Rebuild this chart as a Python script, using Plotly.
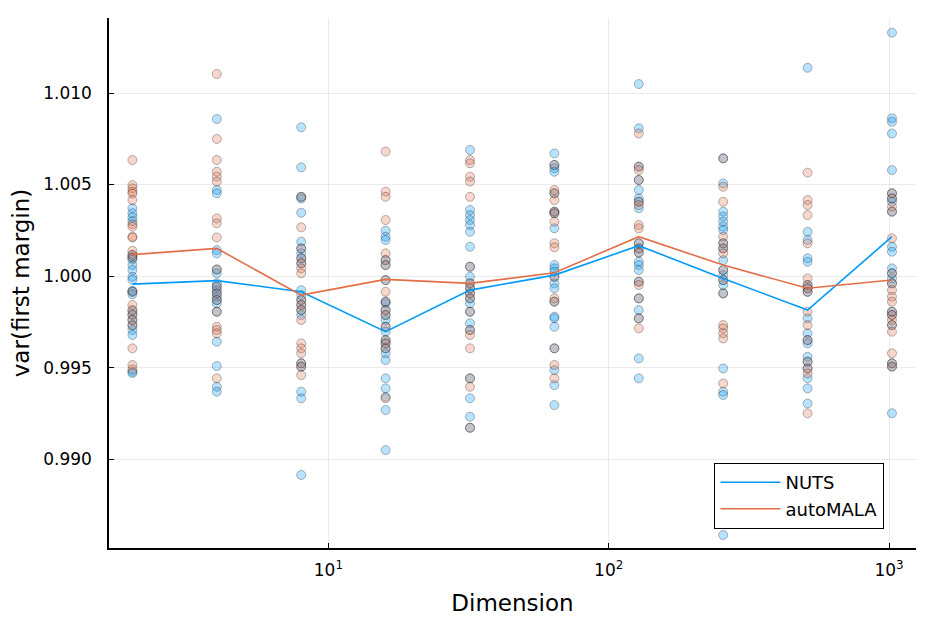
import plotly.graph_objects as go

dims = [2, 4, 8, 16, 32, 64, 128, 256, 512, 1024]

# per-replicate estimates
nuts_vals = [
    [1.0037, 1.00343, 1.00321, 1.0030, 1.00115, 1.00102, 1.0009, 1.0006, 1.00033, 0.99996, 0.9998,
     0.9992, 0.99914, 0.9990, 0.9981, 0.99787, 0.9976, 0.99732, 0.99705, 0.99678, 0.99477, 0.9947],
    [1.00858, 1.0047, 1.00452, 1.00142, 1.00124, 1.00036, 1.00015, 0.9996, 0.99942, 0.99923, 0.99905,
     0.99887, 0.99869, 0.99851, 0.99805, 0.99641, 0.99508, 0.99395, 0.99368],
    [1.00813, 1.00594, 1.00433, 1.00424, 1.00346, 1.00188, 1.00151, 1.00124, 1.00097, 1.0007, 0.99923,
     0.99896, 0.99869, 0.99842, 0.99814, 0.99787, 0.99523, 0.99505, 0.99368, 0.99332, 0.98913],
    [1.00248, 1.00215, 1.00197, 1.00087, 1.0006, 0.99978, 0.9986, 0.99851, 0.99814, 0.99787, 0.9976,
     0.99723, 0.99696, 0.9965, 0.99632, 0.99605, 0.99578, 0.99541, 0.99441, 0.99386, 0.9934, 0.99268, 0.99049],
    [1.00689, 1.00361, 1.00333, 1.00306, 1.00279, 1.00242, 1.0016, 1.00051, 0.99996, 0.9996, 0.99933,
     0.99905, 0.99878, 0.99851, 0.99805, 0.99742, 0.99705, 0.99441, 0.99332, 0.99231, 0.99171],
    [1.0067, 1.00607, 1.00589, 1.0057, 1.00452, 1.00352, 1.00343, 1.00261, 1.0006, 1.00042, 1.00024,
     0.99996, 0.9996, 0.99933, 0.9986, 0.99778, 0.99769, 0.99723, 0.99605, 0.99486, 0.99404, 0.99295],
    [1.01049, 1.00807, 1.00598, 1.00525, 1.0047, 1.00424, 1.00406, 1.0037, 1.00179, 1.00151, 1.00128,
     1.00078, 1.0006, 1.00033, 0.99969, 0.99878, 0.99814, 0.99769, 0.9955, 0.99441],
    [1.00643, 1.00506, 1.00352, 1.00325, 1.00297, 1.0027, 1.00251, 1.00179, 1.00151, 1.00087, 1.00033,
     1.00005, 0.99978, 0.99951, 0.99905, 0.99495, 0.99368, 0.9935, 0.98585],
    [1.01138, 1.00242, 1.00197, 1.00097, 1.00078, 0.99951, 0.99933, 0.99914, 0.99769, 0.99687, 0.9965,
     0.99632, 0.99559, 0.99532, 0.99495, 0.99441, 0.99386, 0.99304],
    [1.0133, 1.00862, 1.00843, 1.00779, 1.00579, 1.00452, 1.00424, 1.00406, 1.00352, 1.0016, 1.00133,
     1.00042, 1.00015, 0.99987, 0.9996, 0.99805, 0.99787, 0.99732, 0.99523, 0.99505, 0.9925],
]

automala_vals = [
    [1.00634, 1.00497, 1.00479, 1.00461, 1.0045, 1.00415, 1.00283, 1.0027, 1.00215, 1.0021, 1.00138,
     1.00115, 1.0010, 0.99914, 0.99842, 0.99814, 0.9979, 0.9976, 0.9973, 0.99605, 0.99514, 0.9949],
    [1.01104, 1.00749, 1.00634, 1.0057, 1.00543, 1.00516, 1.00315, 1.00288, 1.00211, 1.00036, 0.99942,
     0.99905, 0.99869, 0.99805, 0.99723, 0.99705, 0.99687, 0.99441],
    [1.00433, 1.00266, 1.00151, 1.00097, 1.0007, 1.00042, 1.00015, 0.99869, 0.99842, 0.99814, 0.9976,
     0.99632, 0.99605, 0.99578, 0.99523, 0.99505, 0.99459],
    [1.0068, 1.00461, 1.00433, 1.00306, 1.00124, 1.00087, 1.0006, 0.99978, 0.99914, 0.9986, 0.99814,
     0.99787, 0.99723, 0.9965, 0.99632, 0.99605, 0.99332],
    [1.00634, 1.00616, 1.00543, 1.00516, 1.00433, 1.00051, 0.9996, 0.99933, 0.99905, 0.99878, 0.99805,
     0.99705, 0.99678, 0.99605, 0.99441, 0.99395, 0.99171],
    [1.00607, 1.0047, 1.00452, 1.00415, 1.00352, 1.00343, 1.00297, 1.00179, 1.00157, 0.99996, 0.99878,
     0.9986, 0.99605, 0.99514, 0.99441],
    [1.00779, 1.00598, 1.00579, 1.00525, 1.00406, 1.00388, 1.00279, 1.00261, 1.00179, 1.00151, 1.00128,
     0.99969, 0.99951, 0.99878, 0.99769, 0.99714],
    [1.00643, 1.00488, 1.00406, 1.00215, 1.00179, 1.00151, 1.00124, 1.00033, 0.99978, 0.99905, 0.99732,
     0.99714, 0.99687, 0.99659, 0.99413],
    [1.00565, 1.00415, 1.00388, 1.00333, 1.00179, 0.99987, 0.99951, 0.99933, 0.99914, 0.99805, 0.99732,
     0.9965, 0.99532, 0.99495, 0.99468, 0.9925],
    [1.00452, 1.00424, 1.00379, 1.00352, 1.00206, 1.00015, 0.9996, 0.99923, 0.99887, 0.9986, 0.99805,
     0.99787, 0.9976, 0.99732, 0.99696, 0.99578, 0.99523, 0.99505],
]

# means drawn as lines
nuts_mean = [0.99956, 0.99975, 0.99914, 0.99696, 0.99923, 1.00005, 1.00166, 0.99987, 0.99814, 1.00215]
automala_mean = [1.00117, 1.00151, 0.99896, 0.99982, 0.9996, 1.00018, 1.00215, 1.0006, 0.99933, 0.99978]

blue = "#009AFA"
orange = "#E36F47"


def flatten(vals):
    xs, ys = [], []
    for d, v in zip(dims, vals):
        xs += [d] * len(v)
        ys += v
    return xs, ys


fig = go.Figure()

for vals, rgba in [(nuts_vals, "rgba(0,154,250,0.28)"), (automala_vals, "rgba(227,111,71,0.28)")]:
    xs, ys = flatten(vals)
    fig.add_trace(go.Scatter(
        x=xs, y=ys, mode="markers", showlegend=False, hoverinfo="skip",
        marker=dict(size=9, color=rgba, line=dict(color="rgba(0,0,0,0.28)", width=1)),
    ))

fig.add_trace(go.Scatter(x=dims, y=nuts_mean, mode="lines", name="NUTS",
                         line=dict(color=blue, width=1.6)))
fig.add_trace(go.Scatter(x=dims, y=automala_mean, mode="lines", name="autoMALA",
                         line=dict(color=orange, width=1.6)))

fig.update_layout(
    width=934, height=623,
    margin=dict(l=101, r=26, t=10, b=83),
    plot_bgcolor="white", paper_bgcolor="white",
    font=dict(family="DejaVu Sans", color="black", size=12),
    legend=dict(x=0.750, y=0.036, xanchor="left", yanchor="bottom",
                bordercolor="black", borderwidth=1.2, bgcolor="white",
                font=dict(size=18), tracegroupgap=0, itemwidth=60),
)

fig.update_xaxes(
    type="log", range=[0.2175, 3.096],
    tickvals=[10, 100, 1000],
    ticktext=["10<sup>1</sup>", "10<sup>2</sup>", "10<sup>3</sup>"],
    showline=True, linecolor="black", linewidth=1.5,
    ticks="inside", ticklen=5, tickcolor="black",
    showgrid=True, gridcolor="rgba(0,0,0,0.08)", gridwidth=0.8,
    zeroline=False, tickfont=dict(size=17), ticklabelstandoff=6,
    title=dict(text="Dimension", font=dict(size=23), standoff=16),
)
fig.update_yaxes(
    range=[0.98514, 1.0141],
    tickvals=[0.990, 0.995, 1.000, 1.005, 1.010],
    tickformat=".3f",
    showline=True, linecolor="black", linewidth=1.5,
    ticks="inside", ticklen=5, tickcolor="black",
    showgrid=True, gridcolor="rgba(0,0,0,0.08)", gridwidth=0.8,
    zeroline=False, tickfont=dict(size=17), ticklabelstandoff=12,
    title=dict(text="var(first margin)", font=dict(size=23), standoff=10),
)

fig.write_html("out.html")
